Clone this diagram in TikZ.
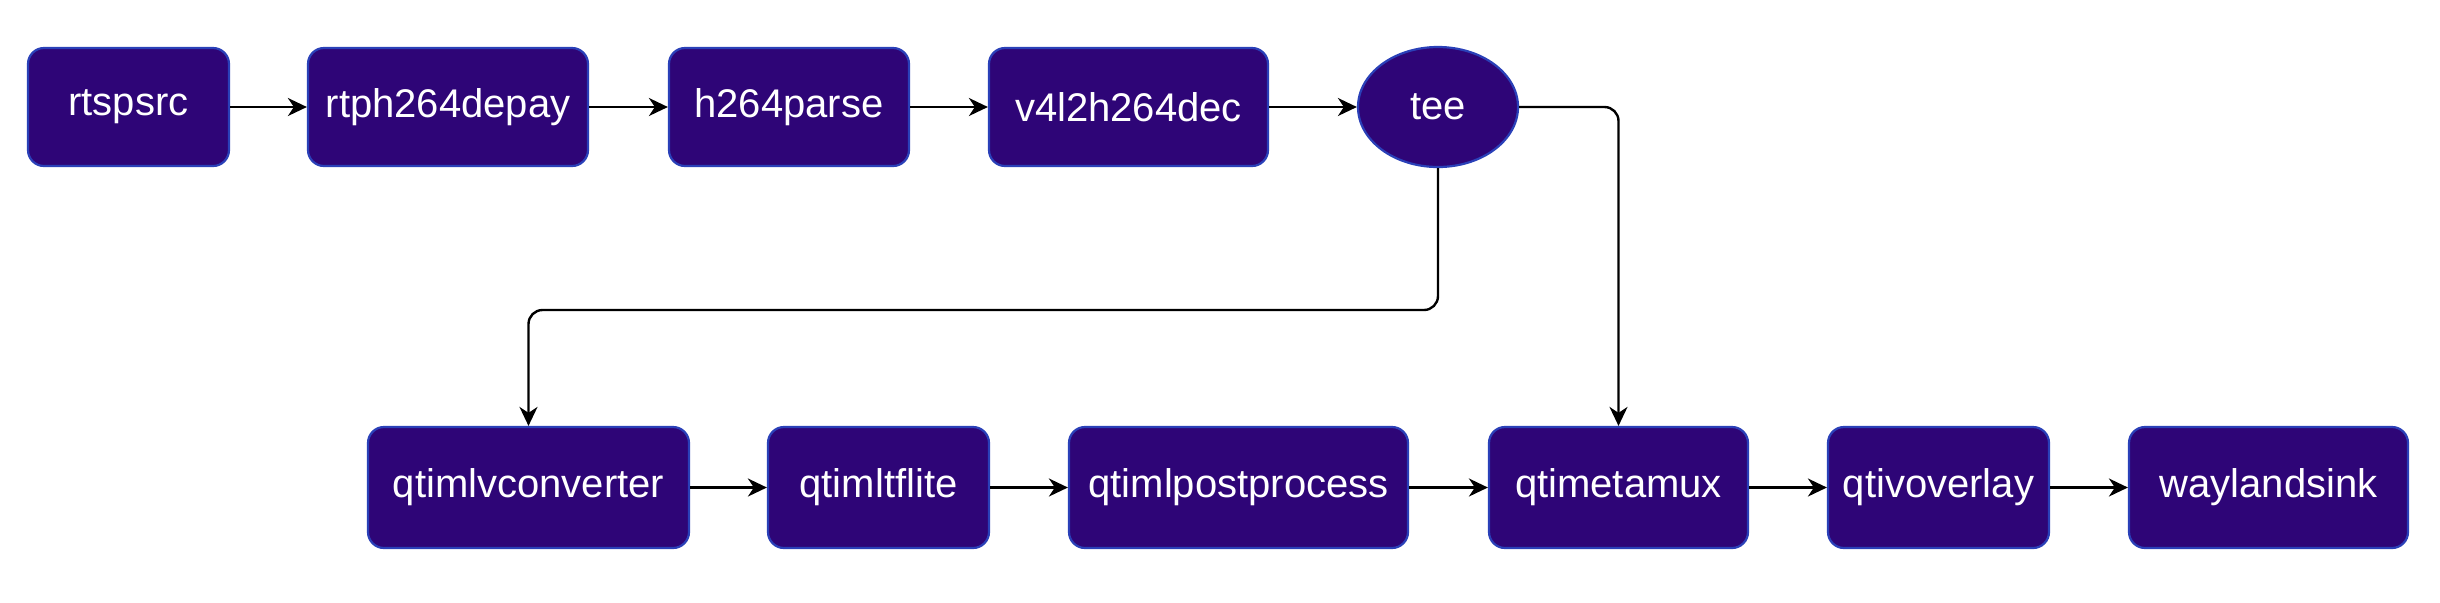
\documentclass[tikz,border=0pt]{standalone}
\usepackage{fontspec}
\setmainfont{Liberation Sans}
\usetikzlibrary{arrows.meta,shapes.geometric}
\definecolor{boxfill}{HTML}{2E0577}
\definecolor{boxline}{HTML}{2A40B8}
\tikzset{
  stagebox/.style={draw=boxline, line width=1.1pt, fill=boxfill, rounded corners=8pt,
    text=white, font=\fontsize{20pt}{24pt}\selectfont, inner sep=0pt},
  teebox/.style={ellipse, draw=boxline, line width=1.1pt, fill=boxfill,
    text=white, font=\fontsize{20pt}{24pt}\selectfont, inner sep=0pt},
  arr/.style={draw=black, line width=1.2pt, -{Stealth[length=9.5pt,width=9pt,inset=3pt]}},
}
\begin{document}
\begin{tikzpicture}[x=0.5pt,y=-0.5pt]
\useasboundingbox (0,0) rectangle (2440,602);
% row 1
\node[stagebox, minimum width=100.5pt, minimum height=59pt] (src) at (128.5,107) {rtspsrc};
\node[stagebox, minimum width=140pt, minimum height=59pt] (depay) at (448,107) {rtph264depay};
\node[stagebox, minimum width=120pt, minimum height=59pt] (parse) at (789,107) {h264parse};
\node[stagebox, minimum width=139.5pt, minimum height=59pt] (dec) at (1128.5,107) {v4l2h264dec};
\node[teebox, minimum width=80pt, minimum height=60pt] (tee) at (1438,107) {tee};
% row 2
\node[stagebox, minimum width=160.5pt, minimum height=60.5pt] (conv) at (528.5,487.5) {qtimlvconverter};
\node[stagebox, minimum width=110.5pt, minimum height=60.5pt] (tfl) at (878.5,487.5) {qtimltflite};
\node[stagebox, minimum width=169.5pt, minimum height=60.5pt] (post) at (1238.5,487.5) {qtimlpostprocess};
\node[stagebox, minimum width=129.5pt, minimum height=60.5pt] (mux) at (1618.5,487.5) {qtimetamux};
\node[stagebox, minimum width=110.5pt, minimum height=60.5pt] (ovl) at (1938.5,487.5) {qtivoverlay};
\node[stagebox, minimum width=139.5pt, minimum height=60.5pt] (sink) at (2268.5,487.5) {waylandsink};
% connectors
\draw[arr] (src) -- (depay);
\draw[arr] (depay) -- (parse);
\draw[arr] (parse) -- (dec);
\draw[arr] (dec) -- (tee);
\coordinate (bend) at (528.5,310);
\draw[arr, rounded corners=7pt] (tee.south) |- (bend) -- (conv.north);
\draw[arr, rounded corners=7pt] (tee.east) -| (mux.north);
\draw[arr] (conv) -- (tfl);
\draw[arr] (tfl) -- (post);
\draw[arr] (post) -- (mux);
\draw[arr] (mux) -- (ovl);
\draw[arr] (ovl) -- (sink);
\end{tikzpicture}
\end{document}
